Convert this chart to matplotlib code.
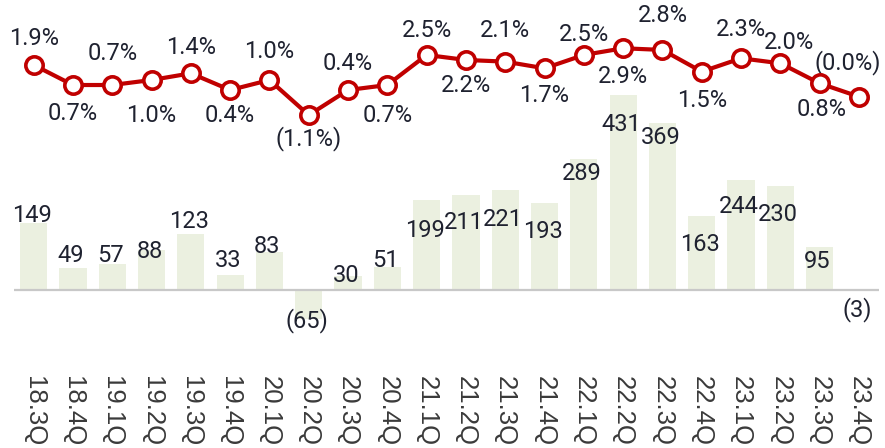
import matplotlib
matplotlib.use('Agg')
import matplotlib.pyplot as plt
import matplotlib.transforms as mtransforms

quarters = ['18.3Q', '18.4Q', '19.1Q', '19.2Q', '19.3Q', '19.4Q', '20.1Q', '20.2Q',
            '20.3Q', '20.4Q', '21.1Q', '21.2Q', '21.3Q', '21.4Q', '22.1Q', '22.2Q',
            '22.3Q', '22.4Q', '23.1Q', '23.2Q', '23.3Q', '23.4Q']
amounts = [149, 49, 57, 88, 123, 33, 83, -65, 30, 51, 199, 211, 221, 193,
           289, 431, 369, 163, 244, 230, 95, -3]
rates = [1.9, 0.7, 0.7, 1.0, 1.4, 0.4, 1.0, -1.1, 0.4, 0.7, 2.5, 2.2, 2.1, 1.7,
         2.5, 2.9, 2.8, 1.5, 2.3, 2.0, 0.8, -0.0]

# label offsets in pixels (positive = down / right)
bar_label_dy = [-7, -12, -9, 1, -13, -15, -6, 1, -1, -6, 30, 28, 29, 29,
                14, 29, 14, 28, 27, 28, 14, 18]
rate_label_dy = [-26, 28, -32, 35, -26, 25, -29, 23, -27, 30, -24, 26, -31, 27,
                 -20, 28, -34, 29, -29, -21, 26, -34]
rate_label_dx = [0] * 19 + [9, 2, -11]


def fmt_amount(v):
    return f'({abs(v)})' if v < 0 else f'{v}'


def fmt_rate(v):
    if v < 0 or str(v).startswith('-'):
        return f'({abs(v):.1f}%)'
    return f'{v:.1f}%'


W, H = 885, 448
fig = plt.figure(figsize=(W / 100, H / 100), dpi=100)
ax = fig.add_axes([14 / W, 0, 864.6 / W, 1])
ax2 = ax.twinx()

x = list(range(len(quarters)))
px = 0.72  # points per pixel

# bars
ax.bar(x, amounts, width=0.69, color='#EBF0E0', zorder=1)
ax.axhline(0, color='#C8C8C8', lw=1.6, zorder=2)
bar_scale = 0.452
ax.set_ylim(-(H - 290) / bar_scale, 290 / bar_scale)
ax.set_xlim(-0.5, len(quarters) - 0.5)

for i, v in enumerate(amounts):
    ax.annotate(fmt_amount(v), (i, v), xytext=(-1.5, -bar_label_dy[i] * px),
                textcoords='offset points', ha='center', va='center',
                fontsize=17, family='Roboto', color='#1F2230', zorder=5)

# line
line_scale = 16.7
ax2.set_ylim(-(H - 96.7) / line_scale, 96.7 / line_scale)
ax2.plot(x, rates, color='#C00000', lw=3, marker='o', ms=12.5,
         mfc='white', mec='#C00000', mew=2.6, zorder=4)
for i, v in enumerate(rates):
    ax2.annotate(fmt_rate(v), (i, v),
                 xytext=(rate_label_dx[i] * px, -rate_label_dy[i] * px),
                 textcoords='offset points', ha='center', va='center',
                 fontsize=17, family='Roboto', color='#1F2230')

# x labels
trans = mtransforms.blended_transform_factory(ax.transData, ax.transAxes)
for i, q in enumerate(quarters):
    ax.text(i, 1 - 376 / H, q, transform=trans, rotation=-90, ha='center',
            va='top', fontsize=18.5, family='Liberation Sans', color='#3A3A3A')

for a in (ax, ax2):
    a.axis('off')

fig.savefig('out.png', dpi=100)
